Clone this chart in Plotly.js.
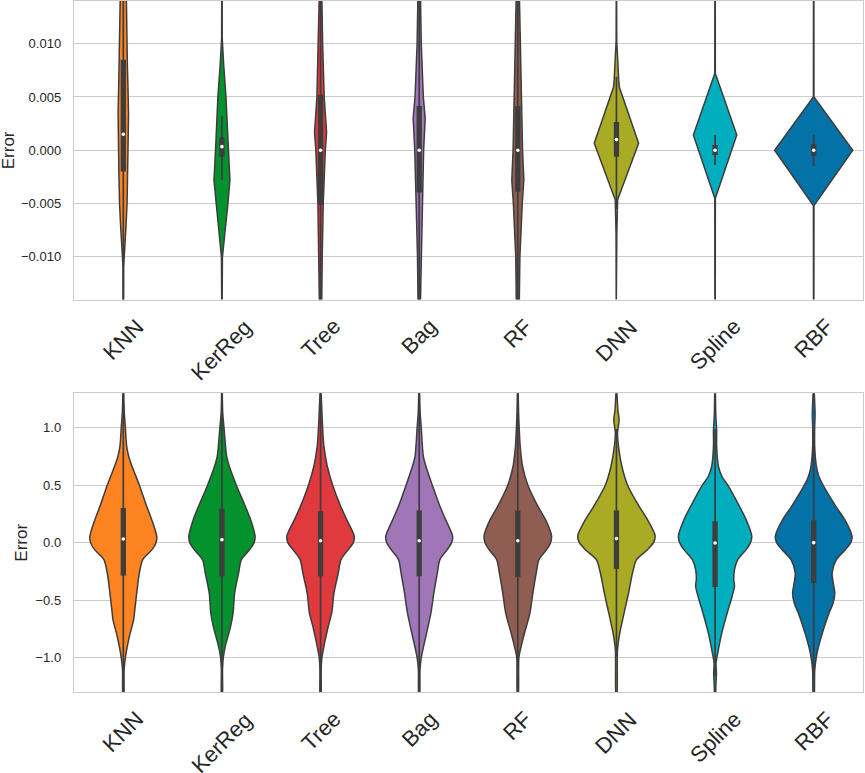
<!DOCTYPE html>
<html>
<head>
<meta charset="utf-8">
<script src="https://cdn.plot.ly/plotly-3.0.1.min.js"></script>
<style>html,body{margin:0;padding:0;background:#fff;}#chart{width:865px;height:773px;}</style>
</head>
<body>
<div id="chart"></div>
<script>
const models = ["KNN", "KerReg", "Tree", "Bag", "RF", "DNN", "Spline", "RBF"];
const topTicks = [-0.010, -0.005, 0.000, 0.005, 0.010];
const bottomTicks = [-1.0, -0.5, 0.0, 0.5, 1.0];

// ---- Top panel: density profiles (value levels and half-widths, as fraction of category spacing)
const knnTopY = [0.015, 0.012, 0.010, 0.008, 0.006, 0.0035, 0.001, -0.002, -0.005, -0.007, -0.009, -0.0098, -0.011, -0.015];
const knnTopW = [0.030, 0.032, 0.035, 0.041, 0.047, 0.053, 0.049, 0.045, 0.038, 0.028, 0.015, 0.006, 0.003, 0.002];
const kerTopY = [0.015, 0.0105, 0.008, 0.005, 0.002, 0.0, -0.0028, -0.005, -0.0078, -0.010, -0.015];
const kerTopW = [0.002, 0.003, 0.018, 0.041, 0.056, 0.065, 0.081, 0.061, 0.027, 0.005, 0.002];
const treeTopY = [0.015, 0.0117, 0.010, 0.005, 0.0017, 0.0, -0.005, -0.010, -0.015];
const treeTopW = [0.012, 0.016, 0.021, 0.037, 0.061, 0.048, 0.027, 0.017, 0.011];
const bagTopY = [0.015, 0.012, 0.010, 0.005, 0.003, 0.0, -0.005, -0.010, -0.015];
const bagTopW = [0.012, 0.015, 0.021, 0.042, 0.061, 0.045, 0.031, 0.017, 0.011];
const rfTopY = [0.015, 0.010, 0.005, 0.0, -0.0028, -0.005, -0.010, -0.015];
const rfTopW = [0.015, 0.024, 0.034, 0.048, 0.061, 0.045, 0.021, 0.014];
const dnnTopY = [0.015, 0.0103, 0.0066, 0.0059, 0.00066, -0.00465, -0.0078, -0.015];
const dnnTopW = [0.002, 0.003, 0.023, 0.030, 0.225, 0.012, 0.004, 0.002];
const splTopY = [0.015, 0.0072, 0.00143, -0.0045, -0.015];
const splTopW = [0.002, 0.003, 0.220, 0.003, 0.002];
const rbfTopY = [0.015, 0.005, 0.0, -0.0052, -0.015];
const rbfTopW = [0.002, 0.003, 0.396, 0.003, 0.002];

// Top panel box statistics
const topQ3 = [0.0085, 0.00122, 0.0052, 0.00415, 0.00415, 0.00265, 0.0005, 0.00056];
const topQ1 = [-0.002, -0.0006, -0.0051, -0.00397, -0.0039, -0.0006, -0.00044, -0.00053];
const topMed = [0.0015, 0.00034, 0.0, 0.0, 0.0, 0.001, 0.0, 0.0];
const topWhHi = [0.015, 0.0032, 0.015, 0.015, 0.015, 0.0069, 0.00143, 0.00143];
const topWhLo = [-0.015, -0.0028, -0.015, -0.015, -0.015, -0.0055, -0.00138, -0.00147];

// ---- Bottom panel: density profiles
const knnBotY = [1.35, 1.13, 1.0, 0.84, 0.75, 0.665, 0.5, 0.316, 0.2, 0.055, 0.0, -0.061, -0.148, -0.264, -0.438, -0.612, -0.67, -0.816, -1.0, -1.106, -1.35];
const knnBotW = [0.003, 0.010, 0.021, 0.034, 0.055, 0.088, 0.163, 0.237, 0.288, 0.339, 0.332, 0.291, 0.197, 0.163, 0.136, 0.113, 0.105, 0.062, 0.021, 0.008, 0.003];
const kerBotY = [1.35, 1.13, 1.0, 0.75, 0.665, 0.5, 0.316, 0.2, 0.055, 0.0, -0.061, -0.148, -0.264, -0.438, -0.612, -0.728, -0.903, -1.0, -1.106, -1.35];
const kerBotW = [0.003, 0.008, 0.021, 0.048, 0.075, 0.146, 0.237, 0.291, 0.336, 0.326, 0.281, 0.197, 0.169, 0.129, 0.113, 0.088, 0.034, 0.014, 0.006, 0.003];
const treeBotY = [1.35, 1.13, 1.0, 0.84, 0.665, 0.5, 0.316, 0.2, 0.055, 0.0, -0.061, -0.148, -0.264, -0.438, -0.612, -0.728, -0.903, -1.0, -1.106, -1.35];
const treeBotW = [0.003, 0.014, 0.021, 0.034, 0.068, 0.123, 0.204, 0.265, 0.342, 0.332, 0.281, 0.207, 0.180, 0.136, 0.113, 0.078, 0.034, 0.014, 0.006, 0.003];
const bagBotY = [1.35, 1.13, 1.0, 0.75, 0.665, 0.5, 0.316, 0.2, 0.055, 0.0, -0.061, -0.148, -0.264, -0.438, -0.612, -0.787, -1.0, -1.106, -1.35];
const bagBotW = [0.003, 0.010, 0.021, 0.042, 0.068, 0.133, 0.210, 0.268, 0.339, 0.329, 0.284, 0.210, 0.184, 0.149, 0.119, 0.075, 0.021, 0.008, 0.003];
const rfBotY = [1.35, 1.13, 1.0, 0.84, 0.665, 0.5, 0.316, 0.2, 0.06, 0.0, -0.061, -0.148, -0.264, -0.438, -0.612, -0.787, -0.903, -1.0, -1.35];
const rfBotW = [0.003, 0.008, 0.014, 0.024, 0.048, 0.102, 0.204, 0.281, 0.342, 0.332, 0.291, 0.214, 0.187, 0.153, 0.123, 0.068, 0.034, 0.011, 0.003];
const dnnBotY = [1.35, 1.15, 1.07, 0.955, 0.84, 0.665, 0.5, 0.316, 0.2, 0.06, 0.0, -0.061, -0.148, -0.264, -0.438, -0.612, -0.787, -0.93, -1.35];
const dnnBotW = [0.003, 0.015, 0.027, 0.011, 0.021, 0.055, 0.113, 0.230, 0.315, 0.392, 0.376, 0.315, 0.204, 0.163, 0.123, 0.078, 0.034, 0.011, 0.003];
const splBotY = [1.35, 1.1, 0.98, 0.84, 0.665, 0.578, 0.5, 0.316, 0.2, 0.055, 0.0, -0.061, -0.148, -0.235, -0.322, -0.38, -0.497, -0.612, -0.787, -0.961, -1.05, -1.135, -1.25, -1.35];
const splBotW = [0.003, 0.008, 0.016, 0.016, 0.034, 0.068, 0.129, 0.247, 0.315, 0.372, 0.359, 0.315, 0.230, 0.197, 0.190, 0.197, 0.163, 0.123, 0.068, 0.027, 0.010, 0.014, 0.008, 0.003];
const rbfBotY = [1.35, 1.12, 1.0, 0.84, 0.665, 0.578, 0.5, 0.316, 0.2, 0.055, 0.0, -0.061, -0.148, -0.264, -0.38, -0.438, -0.525, -0.612, -0.787, -0.961, -1.106, -1.35];
const rbfBotW = [0.003, 0.014, 0.010, 0.010, 0.027, 0.052, 0.095, 0.224, 0.315, 0.389, 0.376, 0.321, 0.230, 0.187, 0.204, 0.214, 0.197, 0.156, 0.088, 0.034, 0.011, 0.003];

// Bottom panel box statistics
const botQ3 = [0.302, 0.294, 0.273, 0.280, 0.279, 0.281, 0.186, 0.194];
const botQ1 = [-0.287, -0.293, -0.293, -0.293, -0.299, -0.229, -0.386, -0.351];
const botMed = [0.032, 0.026, 0.017, 0.017, 0.017, 0.035, -0.003, 0.0];
const botWhHi = [1.35, 1.35, 1.35, 1.35, 1.35, 0.99, 0.984, 0.955];
const botWhLo = [-1.35, -1.35, -1.35, -1.35, -1.35, -0.99, -1.165, -1.135];

// ---- styles
const colors = ["#fd8420", "#03922e", "#e0393e", "#a076b9", "#905d52", "#aaab25", "#00aebd", "#0272a7"];
const dark = "#3d3d3d";
const FONT = "Liberation Sans, Arial, Helvetica, sans-serif";

const topProfiles = [[knnTopY, knnTopW], [kerTopY, kerTopW], [treeTopY, treeTopW], [bagTopY, bagTopW],
                     [rfTopY, rfTopW], [dnnTopY, dnnTopW], [splTopY, splTopW], [rbfTopY, rbfTopW]];
const botProfiles = [[knnBotY, knnBotW], [kerBotY, kerBotW], [treeBotY, treeBotW], [bagBotY, bagBotW],
                     [rfBotY, rfBotW], [dnnBotY, dnnBotW], [splBotY, splBotW], [rbfBotY, rbfBotW]];

const traces = [];
function addPanel(profiles, q1, q3, med, wlo, whi, xa, ya, shape) {
  profiles.forEach(function (p, i) {
    const ys = p[0], ws = p[1];
    const px = [], py = [];
    for (let k = 0; k < ys.length; k++) { px.push(i + ws[k]); py.push(ys[k]); }
    for (let k = ys.length - 1; k >= 0; k--) { px.push(i - ws[k]); py.push(ys[k]); }
    traces.push({
      type: "scatter", mode: "lines", x: px, y: py, xaxis: xa, yaxis: ya,
      fill: "toself", fillcolor: colors[i],
      line: {color: dark, width: 1.5, shape: shape, smoothing: 0.8},
      hoverinfo: "skip", showlegend: false
    });
    // whisker
    traces.push({
      type: "scatter", mode: "lines", x: [i, i], y: [wlo[i], whi[i]], xaxis: xa, yaxis: ya,
      line: {color: dark, width: 1.7}, hoverinfo: "skip", showlegend: false
    });
    // box
    traces.push({
      type: "scatter", mode: "lines", x: [i, i], y: [q1[i], q3[i]], xaxis: xa, yaxis: ya,
      line: {color: dark, width: 5.3}, hoverinfo: "skip", showlegend: false
    });
    // median
    traces.push({
      type: "scatter", mode: "markers", x: [i], y: [med[i]], xaxis: xa, yaxis: ya,
      marker: {color: "white", size: 3.6, line: {width: 0}}, hoverinfo: "skip", showlegend: false
    });
  });
}
addPanel(topProfiles, topQ1, topQ3, topMed, topWhLo, topWhHi, "x", "y", "linear");
addPanel(botProfiles, botQ1, botQ3, botMed, botWhLo, botWhHi, "x2", "y2", "spline");

const topDomain = [0.568, 1];
const botDomain = [0, 0.4323];

const annotations = [];
models.forEach(function (m, i) {
  [["x", topDomain[0]], ["x2", botDomain[0]]].forEach(function (pair) {
    annotations.push({
      text: m, x: i, xref: pair[0], y: pair[1], yref: "paper",
      xanchor: "center", yanchor: "top", yshift: -12, textangle: -45,
      showarrow: false, font: {family: FONT, size: 22, color: "#262626"}
    });
  });
});
annotations.push({text: "Error", x: (8 - 74) / 789, xref: "paper", y: 0, yref: "y",
  xanchor: "center", yanchor: "middle", textangle: -90, showarrow: false,
  font: {family: FONT, size: 17, color: "#262626"}});
annotations.push({text: "Error", x: (22 - 74) / 789, xref: "paper", y: 0, yref: "y2",
  xanchor: "center", yanchor: "middle", textangle: -90, showarrow: false,
  font: {family: FONT, size: 17, color: "#262626"}});

const xaxisBase = {
  range: [-0.5, 7.5], showgrid: false, zeroline: false, showticklabels: false, ticks: "",
  showline: true, mirror: true, linecolor: "#cccccc", linewidth: 1.25, fixedrange: true
};
const yaxisBase = {
  showgrid: true, gridcolor: "#cccccc", gridwidth: 1, zeroline: false, ticks: "",
  showline: true, mirror: true, linecolor: "#cccccc", linewidth: 1.25,
  tickfont: {family: FONT, size: 13, color: "#262626"}, ticklabelstandoff: 9, fixedrange: true
};

const layout = {
  width: 865, height: 773,
  margin: {l: 74, r: 2, t: 1, b: 81, pad: 0},
  paper_bgcolor: "white", plot_bgcolor: "white",
  showlegend: false,
  xaxis: Object.assign({}, xaxisBase, {domain: [0, 1], anchor: "y"}),
  yaxis: Object.assign({}, yaxisBase, {domain: topDomain, anchor: "x", range: [-0.014, 0.014],
    tickvals: topTicks, tickformat: ".3f"}),
  xaxis2: Object.assign({}, xaxisBase, {domain: [0, 1], anchor: "y2"}),
  yaxis2: Object.assign({}, yaxisBase, {domain: botDomain, anchor: "x2", range: [-1.3, 1.3],
    tickvals: bottomTicks, tickformat: ".1f"}),
  annotations: annotations
};

Plotly.newPlot("chart", traces, layout, {displayModeBar: false, staticPlot: true});
</script>
</body>
</html>
